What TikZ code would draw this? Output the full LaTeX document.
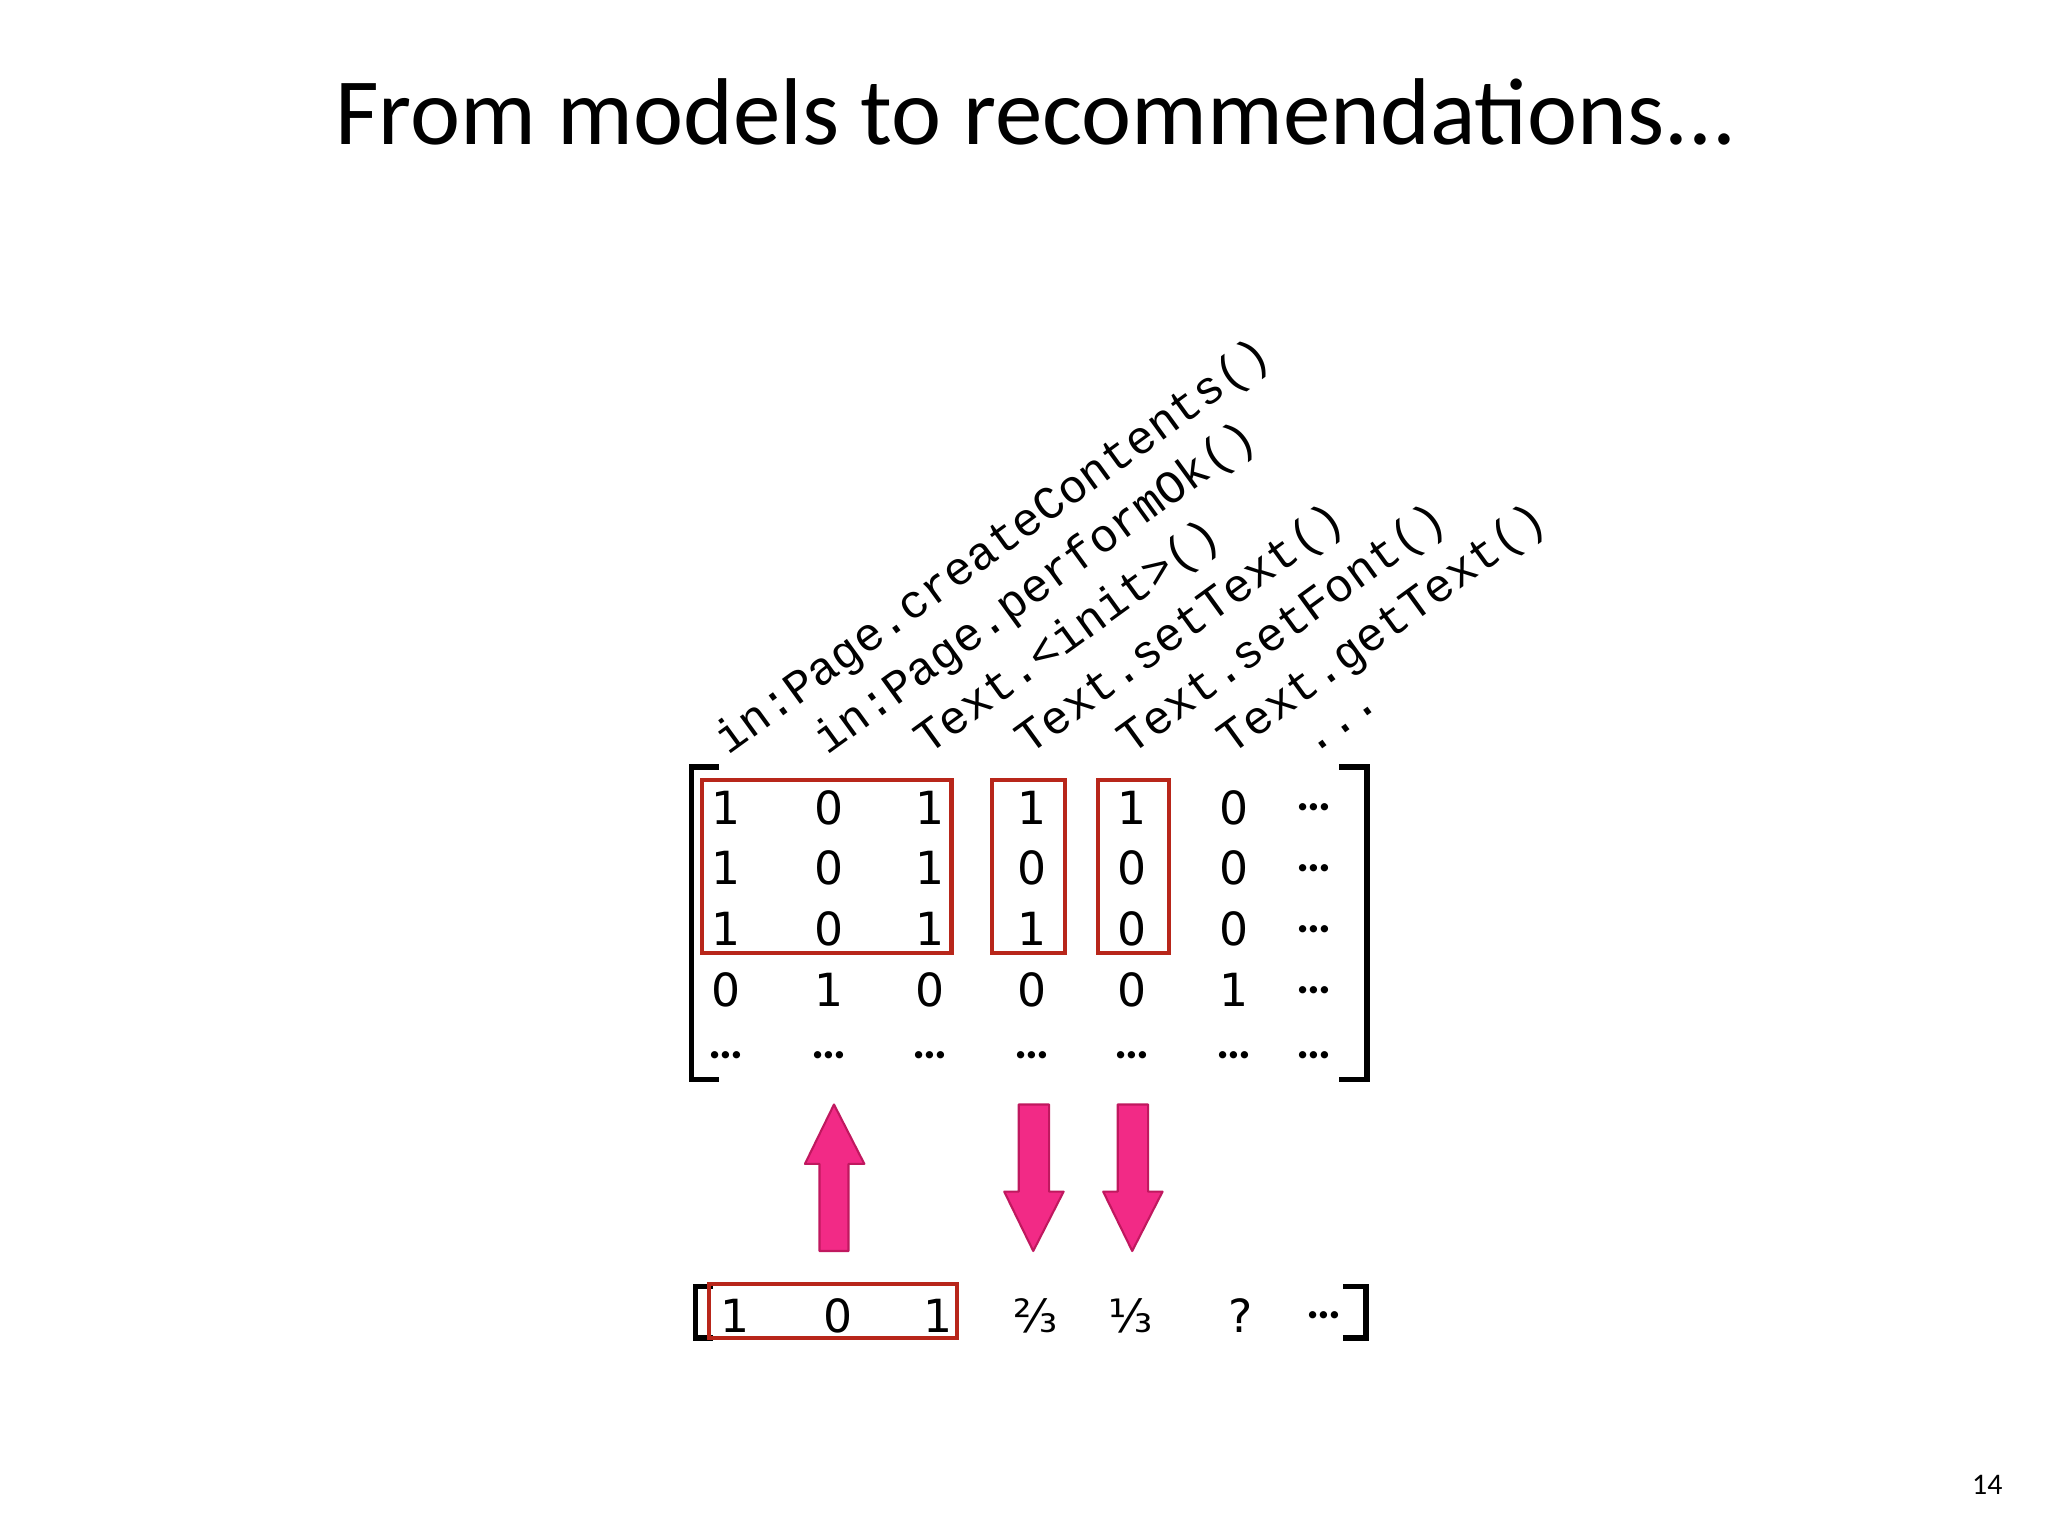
\documentclass[tikz,border=0pt]{standalone}
\usepackage{fontspec}
\setmainfont{Carlito}
\newfontfamily\dv{DejaVu Sans}
\newfontfamily\cour{Liberation Mono}
\definecolor{boxred}{HTML}{B8261A}
\definecolor{pink}{HTML}{F22A86}
\definecolor{pinkdark}{HTML}{C0185F}
\newcommand{\dts}{{\normalfont\bfseries\fontsize{14}{16}\selectfont …}}
\begin{document}
\begin{tikzpicture}[x=0.013196cm,y=-0.013196cm,
  cell/.style={font=\dv\fontsize{13}{15}\selectfont,inner sep=0},
  lab/.style={font=\cour\fontsize{13.3}{15}\selectfont,rotate=36,anchor=base west,inner sep=0},
  rbox/.style={draw=boxred,line width=1.2pt},
  brk/.style={line width=1.6pt},
  parrow/.style={fill=pink,draw=pinkdark,line width=0.6pt,line join=round}]
\useasboundingbox (0,0) rectangle (1552,1164);
\node[font=\fontsize{27}{30}\selectfont] (title) at (785,85) {From models to recommendations...};
\node[font=\fontsize{8.5}{10}\selectfont] (pg) at (1506,1125) {14};
% labels
\node[lab] (l1) at (552,573) {in:Page.createContents()};
\node[lab] (l2) at (627,573) {in:Page.performOk()};
\node[lab] (l3) at (703,573) {Text.<init>()};
\node[lab] (l4) at (780,573) {Text.setText()};
\node[lab] (l5) at (857,573) {Text.setFont()};
\node[lab] (l6) at (933,573) {Text.getText()};
\node[lab] (l7) at (995,573) {...};
% matrix
\foreach \vals [count=\r] in {{1,0,1,1,1,0,\dts},{1,0,1,0,0,0,\dts},{1,0,1,1,0,0,\dts},{0,1,0,0,0,1,\dts},{\dts,\dts,\dts,\dts,\dts,\dts,\dts}}{
  \foreach \v [count=\c] in \vals {
    \pgfmathsetmacro\xx{{550,628,705,782,858,935,996}[\c-1]}
    \pgfmathsetmacro\yy{612+46*(\r-1)+(\r==5?4:0)}
    \node[cell] (m\r\c) at (\xx,\yy) {\v};
  }
}
\draw[brk] (545,581) -- (524,581) -- (524,818) -- (545,818);
\draw[brk] (1015,581) -- (1036,581) -- (1036,818) -- (1015,818);
\draw[rbox] (532,591) rectangle (721,722);
\draw[rbox] (752,591) rectangle (807,722);
\draw[rbox] (832,591) rectangle (886,722);
% arrows
\draw[parrow] (621,948) -- (621,882) -- (610,882) -- (632,837) -- (655,882) -- (643,882) -- (643,948) -- cycle;
\draw[parrow] (772,837) -- (772,903) -- (761,903) -- (783,948) -- (806,903) -- (795,903) -- (795,837) -- cycle;
\draw[parrow] (847,837) -- (847,903) -- (836,903) -- (858,948) -- (881,903) -- (870,903) -- (870,837) -- cycle;
% bottom vector
\foreach \v/\xx [count=\c] in {1/557,0/635,1/711,⅔/785,⅓/857,?/940}{
  \node[cell] (b\c) at (\xx,997) {\v};
}
\node[cell] (b7) at (1003,997) {\dts};
\draw[brk] (540,975) -- (527,975) -- (527,1014) -- (540,1014);
\draw[brk] (1018,975) -- (1035,975) -- (1035,1014) -- (1018,1014);
\draw[rbox] (537,973) rectangle (725,1014);
\end{tikzpicture}
\end{document}
